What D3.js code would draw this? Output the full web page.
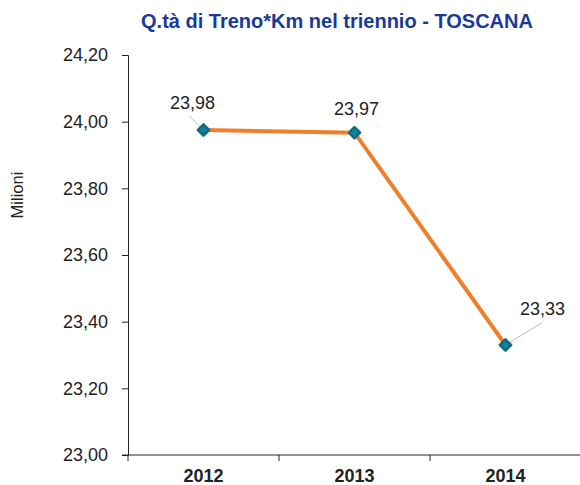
<!DOCTYPE html>
<html>
<head>
<meta charset="utf-8">
<script src="https://cdn.jsdelivr.net/npm/d3@7"></script>
<style>
  body { margin: 0; background: #fff; }
  text { font-family: Arial, "Liberation Sans", sans-serif; }
</style>
</head>
<body>
<div id="chart"></div>
<script>
var years = ["2012", "2013", "2014"];
var values = [23.975, 23.967, 23.33];
var valueLabels = ["23,98", "23,97", "23,33"];
var yTicks = [23.0, 23.2, 23.4, 23.6, 23.8, 24.0, 24.2];

var outerWidth = 580;
var outerHeight = 485;
var marginLeft = 128;
var marginRight = -1;
var marginTop = 55;
var marginBottom = 30;

var svg = d3.select("#chart").append("svg")
            .attr("width", outerWidth)
            .attr("height", outerHeight);

var x = d3.scaleBand()
        .domain(years)
        .range([marginLeft, outerWidth - marginRight]);

var y = d3.scaleLinear()
        .domain([23.0, 24.2])
        .range([outerHeight - marginBottom, marginTop]);

// title
svg.append("text")
    .attr("x", 337)
    .attr("y", 28)
    .attr("text-anchor", "middle")
    .attr("font-size", "20px")
    .attr("font-weight", "bold")
    .attr("fill", "#1a3a9a")
    .text("Q.tà di Treno*Km nel triennio - TOSCANA");

// y axis
var yAxis = svg.append("g")
    .attr("transform", "translate(" + marginLeft + ",0)")
    .call(d3.axisLeft(y)
        .tickValues(yTicks)
        .tickSize(6)
        .tickPadding(14)
        .tickFormat(function(d){ return d3.format(".2f")(d).replace(".", ","); }));
yAxis.select(".domain").attr("stroke", "#222");
yAxis.selectAll(".tick line").attr("stroke", "#222");
yAxis.selectAll(".tick text")
    .attr("font-size", "18px")
    .attr("fill", "#222");

// x axis
var xAxis = svg.append("g")
    .attr("transform", "translate(0," + y(23.0) + ")");
xAxis.append("line")
    .attr("x1", marginLeft - 6)
    .attr("x2", outerWidth)
    .attr("stroke", "#222");
var xTickPos = years.map(function(d){ return x(d); }).concat([x(years[2]) + x.bandwidth()]);
xAxis.selectAll(".xtick")
    .data(xTickPos)
    .enter()
    .append("line")
    .attr("x1", function(d){ return d; })
    .attr("x2", function(d){ return d; })
    .attr("y1", 0)
    .attr("y2", 6)
    .attr("stroke", "#222");
xAxis.selectAll(".xlabel")
    .data(years)
    .enter()
    .append("text")
    .attr("x", function(d){ return x(d) + x.bandwidth()/2; })
    .attr("y", 27)
    .attr("text-anchor", "middle")
    .attr("font-size", "18px")
    .attr("font-weight", "bold")
    .attr("fill", "#222")
    .text(function(d){ return d; });

// y title
svg.append("text")
    .attr("transform", "translate(23,195) rotate(-90)")
    .attr("text-anchor", "middle")
    .attr("font-size", "16.5px")
    .attr("fill", "#222")
    .text("Milioni");

var pts = years.map(function(d, i){
    return { year: d, value: values[i], label: valueLabels[i] };
});

var cx = function(d){ return x(d.year) + x.bandwidth()/2; };

// line
svg.append("path")
    .datum(pts)
    .attr("fill", "none")
    .attr("stroke", "#f07f2c")
    .attr("stroke-width", 4)
    .attr("d", d3.line().x(cx).y(function(d){ return y(d.value); }));

// label leader lines and labels
var labelOffsets = [
    { dx: -11, dy: -21, lx: -14, ly: -14 },
    { dx: 2, dy: -18, lx: null, ly: null },
    { dx: 37, dy: -30, lx: 36, ly: -22 }
];

svg.selectAll(".leader")
    .data(pts.filter(function(d, i){ return labelOffsets[i].lx !== null; }))
    .enter()
    .append("line")
    .attr("x1", cx)
    .attr("y1", function(d){ return y(d.value); })
    .attr("x2", function(d){ var i = years.indexOf(d.year); return cx(d) + labelOffsets[i].lx; })
    .attr("y2", function(d){ var i = years.indexOf(d.year); return y(d.value) + labelOffsets[i].ly; })
    .attr("stroke", "#bbb")
    .attr("stroke-width", 1);

svg.selectAll(".vlabel")
    .data(pts)
    .enter()
    .append("text")
    .attr("x", function(d, i){ return cx(d) + labelOffsets[i].dx; })
    .attr("y", function(d, i){ return y(d.value) + labelOffsets[i].dy; })
    .attr("text-anchor", "middle")
    .attr("font-size", "18px")
    .attr("fill", "#222")
    .text(function(d){ return d.label; });

// markers
svg.selectAll(".marker")
    .data(pts)
    .enter()
    .append("path")
    .attr("transform", function(d){ return "translate(" + cx(d) + "," + y(d.value) + ")"; })
    .attr("d", d3.symbol().type(d3.symbolDiamond2).size(80))
    .attr("fill", "#13819a")
    .attr("stroke", "#0d6d82")
    .attr("stroke-width", 2.5)
    .attr("stroke-linejoin", "round");
</script>
</body>
</html>
